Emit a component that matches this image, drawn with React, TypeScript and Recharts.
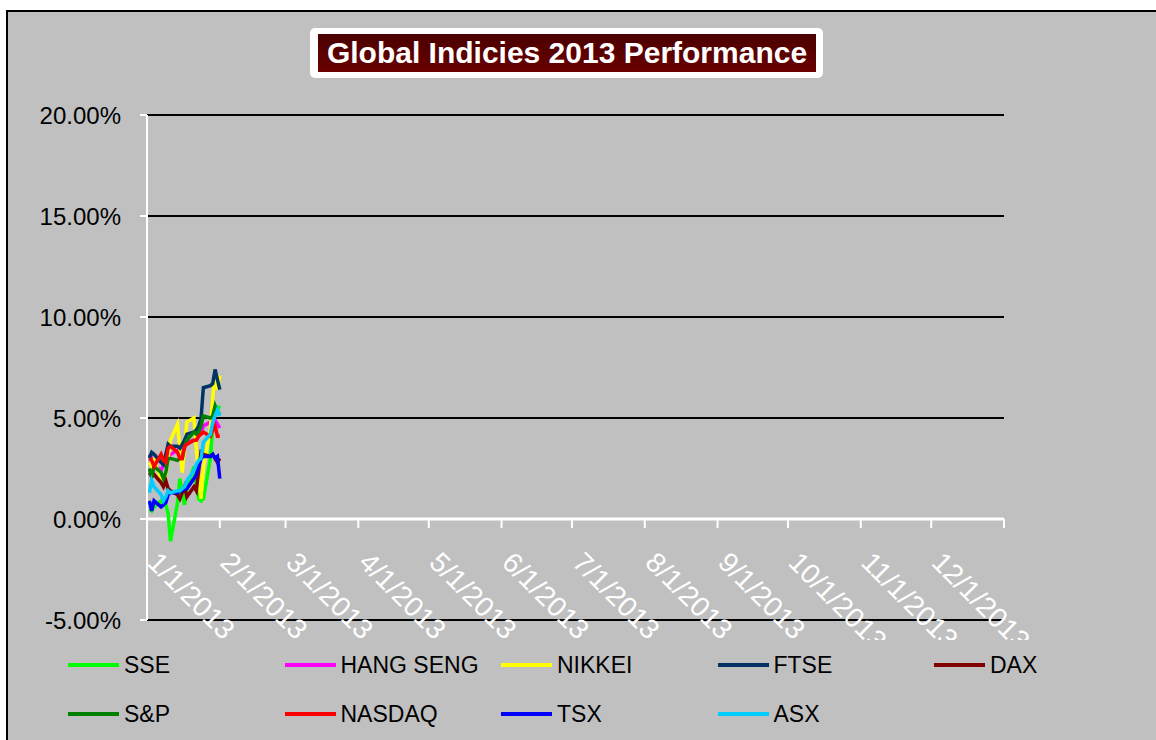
import { LineChart, Line, XAxis, YAxis, CartesianGrid, ReferenceLine } from "recharts";

const FONT = "'Liberation Sans', Arial, sans-serif";

// trading days shown (Jan 2013)
const DATES = [
  "1/2/2013", "1/3/2013", "1/4/2013", "1/7/2013", "1/8/2013", "1/9/2013", "1/10/2013", "1/11/2013",
  "1/14/2013", "1/15/2013", "1/16/2013", "1/17/2013", "1/18/2013", "1/21/2013", "1/22/2013", "1/23/2013",
  "1/24/2013", "1/25/2013", "1/28/2013", "1/29/2013", "1/30/2013", "1/31/2013", "2/1/2013",
];

const MONTH_TICKS = [
  "1/1/2013", "2/1/2013", "3/1/2013", "4/1/2013", "5/1/2013", "6/1/2013", "7/1/2013",
  "8/1/2013", "9/1/2013", "10/1/2013", "11/1/2013", "12/1/2013", "1/1/2014",
];

const Y_TICKS = [-5, 0, 5, 10, 15, 20];

// % change since start of year
const SSE = [0.5, 0.4, 0.6, 0.9, 0.8, 0.7, 0.3, -1.1, 0.8, 2.0, 1.2, 0.7, 1.5, 2.6, 1.6, 1.0, 0.9, 1.0, 3.0, 4.6, 5.2, 5.4, 5.6];
const HANG_SENG = [3.2, 3.0, 2.7, 2.4, 2.7, 2.8, 3.1, 3.2, 3.4, 3.3, 3.4, 3.5, 3.8, 3.9, 3.9, 4.1, 4.3, 4.6, 4.8, 5.0, 4.9, 4.7, 4.5];
const NIKKEI = [2.8, 2.6, 2.9, 2.0, 1.6, 2.2, 3.0, 3.9, 4.7, 3.5, 2.3, 3.6, 4.8, 5.0, 3.5, 2.2, 1.0, 2.5, 4.5, 6.0, 7.3, 6.4, 7.1];
const FTSE = [3.0, 3.3, 3.2, 2.8, 2.7, 3.2, 3.7, 3.6, 3.6, 3.5, 3.7, 3.9, 4.2, 4.3, 4.4, 4.6, 4.95, 6.5, 6.6, 6.7, 7.4, 6.9, 6.4];
const DAX = [2.3, 2.1, 2.2, 1.8, 1.6, 1.9, 1.5, 1.4, 1.2, 1.0, 1.3, 1.6, 1.1, 1.6, 1.4, 2.4, 3.3, 3.2, 3.1, 3.2, 3.0, 2.8, 3.0];
const SP = [2.5, 2.1, 2.6, 2.3, 2.0, 2.3, 3.0, 3.0, 2.9, 3.0, 3.0, 3.6, 3.9, 4.3, 4.2, 4.3, 4.6, 5.1, 5.0, 5.1, 5.6, 5.3, 5.2];
const NASDAQ = [3.0, 2.9, 2.6, 3.2, 2.9, 2.8, 3.5, 3.6, 3.3, 3.0, 3.0, 3.6, 3.7, 3.9, 3.9, 4.1, 4.2, 4.3, 4.1, 4.4, 4.6, 4.1, 4.1];
const TSX = [0.9, 0.4, 0.9, 0.6, 0.7, 0.8, 1.2, 1.3, 1.3, 1.4, 1.4, 1.5, 1.5, 2.0, 2.2, 2.6, 3.0, 3.1, 3.1, 3.2, 3.0, 3.1, 2.0];
const ASX = [1.3, 1.9, 1.6, 1.2, 0.9, 1.1, 1.4, 1.3, 1.4, 1.4, 1.5, 1.6, 1.9, 2.4, 2.7, 2.9, 3.0, 3.8, 4.2, 4.8, 5.1, 5.4, 5.1];

const SERIES = [
  { key: "SSE", values: SSE, color: "#00ff00" },
  { key: "HANG SENG", values: HANG_SENG, color: "#ff00ff" },
  { key: "NIKKEI", values: NIKKEI, color: "#ffff00" },
  { key: "FTSE", values: FTSE, color: "#003366" },
  { key: "DAX", values: DAX, color: "#800000" },
  { key: "S&P", values: SP, color: "#008000" },
  { key: "NASDAQ", values: NASDAQ, color: "#ff0000" },
  { key: "TSX", values: TSX, color: "#0000ff" },
  { key: "ASX", values: ASX, color: "#00ccff" },
];

function dayOfYear(s: string) {
  const [m, d, y] = s.split("/").map(Number);
  return (Date.UTC(y, m - 1, d) - Date.UTC(2013, 0, 1)) / 86400000;
}

const data = DATES.map((d, i) => {
  const row: Record<string, number> = { day: dayOfYear(d) };
  SERIES.forEach((s) => (row[s.key] = s.values[i]));
  return row;
});

const tickDays = MONTH_TICKS.map(dayOfYear);

// layout
const W = 1156;
const H = 740;
const PLOT_TOP = 115;
const PLOT_BOTTOM = 620;
const X_AXIS_H = 20;
const Y_MIN = -5;
const Y_MAX = 20;
const ZERO_Y = PLOT_TOP + ((PLOT_BOTTOM - PLOT_TOP) * Y_MAX) / (Y_MAX - Y_MIN);
const LABEL_CLIP_Y = 640;

function XTick(props: any) {
  const { x, index } = props;
  const label = index < MONTH_TICKS.length - 1 ? MONTH_TICKS[index] : null;
  return (
    <g>
      <line x1={x} x2={x} y1={ZERO_Y} y2={ZERO_Y + 9} stroke="#fff" strokeWidth={2} />
      {label && (
        <g clipPath="url(#xLabelClip)">
          <text
            transform={`translate(${x - 1},${ZERO_Y + 45}) rotate(45)`}
            fill="#fff"
            fontSize={28}
            fontFamily={FONT}
            textAnchor="start"
          >
            {label}
          </text>
        </g>
      )}
    </g>
  );
}

function Legend() {
  const rows = [SERIES.slice(0, 5), SERIES.slice(5)];
  return (
    <>
      {rows.map((row, r) =>
        row.map((s, c) => (
          <div
            key={s.key}
            style={{
              position: "absolute",
              left: 68 + c * 216.5,
              top: 665 + r * 49 - 14,
              height: 28,
              display: "flex",
              alignItems: "center",
              fontFamily: FONT,
              fontSize: 23,
              color: "#000",
              whiteSpace: "nowrap",
            }}
          >
            <span style={{ display: "inline-block", width: 51, height: 4, background: s.color, marginRight: 5 }} />
            {s.key}
          </div>
        ))
      )}
    </>
  );
}

export default function App() {
  return (
    <div style={{ position: "absolute", left: 0, top: 0, width: W, height: H, overflow: "hidden", background: "#fff" }}>
      <div
        style={{
          position: "absolute",
          left: 6,
          top: 10,
          width: W + 20,
          height: H + 20,
          border: "2px solid #000",
          background: "#c0c0c0",
        }}
      />
      <div
        style={{
          position: "absolute",
          left: 310,
          top: 28,
          width: 513,
          height: 50,
          background: "#fff",
          borderRadius: 5,
        }}
      >
        <div
          style={{
            position: "absolute",
            left: 8,
            top: 6,
            right: 7,
            bottom: 6,
            background: "linear-gradient(#4a0000, #6a0000)",
            color: "#fff",
            fontFamily: FONT,
            fontWeight: "bold",
            fontSize: 30,
            display: "flex",
            alignItems: "center",
            justifyContent: "center",
          }}
        >
          Global Indicies 2013 Performance
        </div>
      </div>
      <div style={{ position: "absolute", left: 0, top: 0 }}>
        <LineChart
          width={W}
          height={H}
          data={data}
          margin={{ top: PLOT_TOP, right: 152, bottom: H - PLOT_BOTTOM - X_AXIS_H, left: 0 }}
        >
          <defs>
            <clipPath id="xLabelClip">
              <rect x={0} y={0} width={W} height={LABEL_CLIP_Y} />
            </clipPath>
          </defs>
          <CartesianGrid vertical={false} stroke="#000" strokeWidth={2} />
          <XAxis
            type="number"
            dataKey="day"
            domain={[tickDays[0], tickDays[tickDays.length - 1]]}
            ticks={tickDays}
            interval={0}
            height={X_AXIS_H}
            axisLine={false}
            tickLine={false}
            tick={(p: any) => <XTick {...p} />}
          />
          <YAxis
            type="number"
            domain={[Y_MIN, Y_MAX]}
            ticks={Y_TICKS}
            interval={0}
            width={147}
            tickSize={7}
            tickMargin={19}
            axisLine={{ stroke: "#fff", strokeWidth: 2 }}
            tickLine={{ stroke: "#fff", strokeWidth: 2 }}
            tick={{ fill: "#000", fontSize: 24, fontFamily: FONT }}
            tickFormatter={(v: number) => v.toFixed(2) + "%"}
          />
          <ReferenceLine y={0} stroke="#fff" strokeWidth={3} />
          {SERIES.map((s) => (
            <Line
              key={s.key}
              type="linear"
              dataKey={s.key}
              stroke={s.color}
              strokeWidth={3.5}
              dot={false}
              isAnimationActive={false}
            />
          ))}
        </LineChart>
      </div>
      <Legend />
    </div>
  );
}
